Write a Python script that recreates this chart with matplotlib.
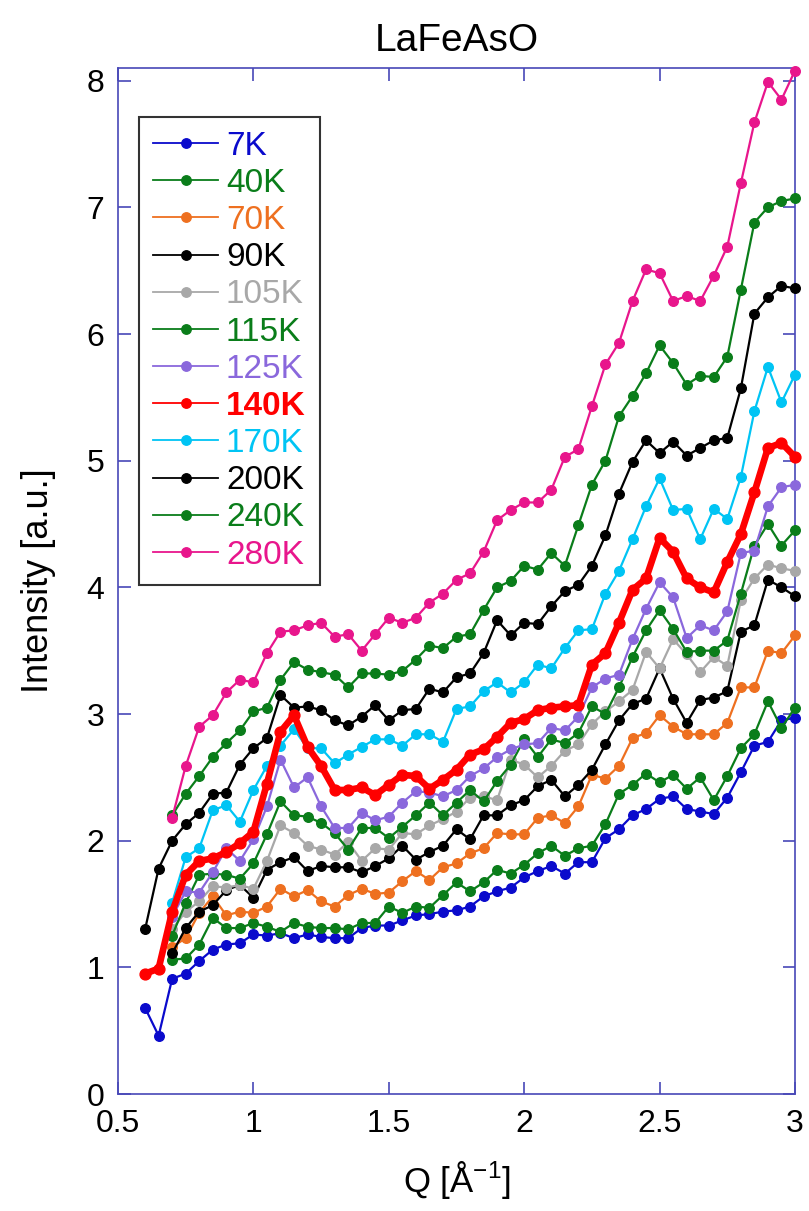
import numpy as np
import matplotlib
matplotlib.use("Agg")
import matplotlib.pyplot as plt
from matplotlib.lines import Line2D

plt.rcParams['font.family'] = ['Liberation Sans', 'DejaVu Sans']
plt.rcParams['mathtext.fontset'] = 'custom'
plt.rcParams['mathtext.rm'] = 'Liberation Sans'
plt.rcParams['mathtext.it'] = 'Liberation Sans:italic'

nan = np.nan
Q = np.round(np.arange(0.6, 3.0001, 0.05), 2)

I_7K = [0.68, 0.46, 0.91, 0.95, 1.05, 1.14, 1.18, 1.19, 1.26, 1.25, 1.27, 1.23, 1.26, 1.24, 1.23, 1.23, 1.31, 1.33, 1.33, 1.37, 1.41, 1.42, 1.44, 1.45, 1.48, 1.56, 1.60, 1.63, 1.71, 1.76, 1.80, 1.74, 1.83, 1.83, 2.02, 2.09, 2.20, 2.25, 2.33, 2.35, 2.25, 2.23, 2.21, 2.34, 2.54, 2.75, 2.78, 2.95, 2.97]
I_40K = [nan, nan, 1.06, 1.07, 1.18, 1.39, 1.31, 1.31, 1.35, 1.32, 1.28, 1.35, 1.32, 1.31, 1.31, 1.30, 1.35, 1.35, 1.48, 1.43, 1.48, 1.47, 1.57, 1.67, 1.60, 1.67, 1.77, 1.74, 1.81, 1.90, 1.96, 1.88, 1.94, 1.96, 2.13, 2.37, 2.44, 2.53, 2.46, 2.52, 2.41, 2.50, 2.32, 2.51, 2.73, 2.84, 3.10, 2.89, 3.05]
I_70K = [nan, nan, 1.16, 1.23, 1.43, 1.56, 1.41, 1.44, 1.43, 1.48, 1.62, 1.56, 1.61, 1.52, 1.48, 1.57, 1.62, 1.58, 1.59, 1.68, 1.76, 1.69, 1.79, 1.82, 1.90, 1.94, 2.06, 2.05, 2.05, 2.18, 2.20, 2.14, 2.27, 2.52, 2.49, 2.59, 2.81, 2.85, 2.99, 2.90, 2.84, 2.84, 2.84, 2.93, 3.21, 3.21, 3.50, 3.48, 3.62]
I_90K = [nan, nan, 1.11, 1.31, 1.44, 1.49, 1.61, 1.65, 1.55, 1.77, 1.83, 1.87, 1.76, 1.80, 1.79, 1.79, 1.75, 1.80, 1.86, 1.96, 1.85, 1.91, 1.96, 2.09, 2.01, 2.20, 2.20, 2.28, 2.32, 2.43, 2.48, 2.35, 2.44, 2.56, 2.76, 2.95, 3.08, 3.12, 3.36, 3.12, 2.93, 3.11, 3.13, 3.18, 3.65, 3.70, 4.06, 4.00, 3.93]
I_105K = [nan, nan, 1.30, 1.44, 1.52, 1.64, 1.63, 1.65, 1.62, 1.84, 2.12, 2.06, 1.96, 1.93, 1.89, 1.99, 1.84, 1.94, 1.93, 2.06, 2.05, 2.12, 2.17, 2.23, 2.34, 2.35, 2.32, 2.64, 2.60, 2.50, 2.59, 2.71, 2.76, 2.92, 3.02, 3.10, 3.19, 3.49, 3.36, 3.59, 3.47, 3.33, 3.45, 3.38, 3.90, 4.07, 4.18, 4.15, 4.13]
I_115K = [nan, nan, 1.25, 1.51, 1.73, 1.74, 1.73, 1.70, 1.82, 2.05, 2.31, 2.20, 2.19, 2.14, 2.06, 1.93, 2.10, 2.10, 2.02, 2.11, 2.20, 2.30, 2.20, 2.30, 2.40, 2.31, 2.47, 2.60, 2.80, 2.66, 2.80, 2.77, 2.85, 3.06, 3.00, 3.21, 3.45, 3.66, 3.82, 3.67, 3.49, 3.50, 3.50, 3.58, 3.95, 4.33, 4.50, 4.33, 4.45]
I_125K = [nan, nan, 1.40, 1.60, 1.59, 1.75, 1.94, 1.84, 2.01, 2.27, 2.64, 2.42, 2.50, 2.27, 2.10, 2.10, 2.22, 2.16, 2.19, 2.30, 2.39, 2.38, 2.35, 2.40, 2.51, 2.57, 2.66, 2.72, 2.76, 2.77, 2.89, 2.87, 2.98, 3.21, 3.28, 3.31, 3.59, 3.83, 4.04, 3.92, 3.60, 3.70, 3.66, 3.81, 4.27, 4.29, 4.64, 4.79, 4.81]
I_140K = [0.95, 0.99, 1.44, 1.73, 1.84, 1.86, 1.91, 1.98, 2.07, 2.45, 2.86, 2.99, 2.74, 2.59, 2.40, 2.40, 2.42, 2.36, 2.44, 2.52, 2.51, 2.41, 2.48, 2.56, 2.68, 2.72, 2.82, 2.93, 2.96, 3.03, 3.05, 3.06, 3.07, 3.39, 3.48, 3.72, 3.98, 4.07, 4.39, 4.28, 4.07, 4.00, 3.96, 4.20, 4.42, 4.75, 5.10, 5.14, 5.03]
I_170K = [nan, nan, 1.51, 1.87, 1.94, 2.24, 2.28, 2.15, 2.40, 2.59, 2.75, 2.88, 2.73, 2.73, 2.61, 2.68, 2.74, 2.80, 2.80, 2.75, 2.84, 2.84, 2.78, 3.04, 3.06, 3.18, 3.25, 3.17, 3.25, 3.39, 3.36, 3.52, 3.66, 3.67, 3.95, 4.13, 4.38, 4.64, 4.86, 4.61, 4.62, 4.38, 4.62, 4.54, 4.87, 5.39, 5.74, 5.46, 5.68]
I_200K = [1.30, 1.78, 2.00, 2.13, 2.22, 2.37, 2.38, 2.60, 2.73, 2.81, 3.15, 3.05, 3.06, 3.03, 2.95, 2.91, 2.98, 3.07, 2.95, 3.03, 3.04, 3.20, 3.17, 3.29, 3.32, 3.48, 3.74, 3.62, 3.72, 3.71, 3.85, 3.97, 4.02, 4.17, 4.41, 4.74, 4.99, 5.16, 5.06, 5.15, 5.04, 5.10, 5.16, 5.18, 5.57, 6.16, 6.29, 6.38, 6.36]
I_240K = [nan, nan, 2.20, 2.37, 2.51, 2.66, 2.77, 2.87, 3.02, 3.05, 3.27, 3.41, 3.35, 3.33, 3.31, 3.21, 3.32, 3.32, 3.31, 3.34, 3.43, 3.54, 3.52, 3.61, 3.63, 3.82, 4.00, 4.05, 4.17, 4.14, 4.27, 4.17, 4.49, 4.81, 5.00, 5.35, 5.51, 5.69, 5.91, 5.77, 5.60, 5.67, 5.66, 5.82, 6.35, 6.88, 7.00, 7.05, 7.07]
I_280K = [nan, nan, 2.18, 2.59, 2.90, 2.99, 3.17, 3.27, 3.25, 3.48, 3.65, 3.66, 3.70, 3.72, 3.61, 3.63, 3.50, 3.63, 3.76, 3.72, 3.76, 3.88, 3.95, 4.06, 4.11, 4.28, 4.53, 4.61, 4.67, 4.67, 4.77, 5.03, 5.09, 5.43, 5.76, 5.93, 6.26, 6.51, 6.48, 6.26, 6.30, 6.26, 6.46, 6.69, 7.19, 7.67, 7.99, 7.85, 8.08]

labels = ['7K', '40K', '70K', '90K', '105K', '115K', '125K', '140K', '170K', '200K', '240K', '280K']
series = [I_7K, I_40K, I_70K, I_90K, I_105K, I_115K, I_125K, I_140K, I_170K, I_200K, I_240K, I_280K]
colors = ['#0a0acc', '#0a7d1a', '#ee7020', '#000000', '#a8a8a8', '#0a7d1a',
          '#8a68dc', '#ff0000', '#00c4f4', '#000000', '#0a7d1a', '#e8168c']

W, H = 809, 1211
fig = plt.figure(figsize=(W / 100, H / 100), dpi=100)
ax = fig.add_axes([118 / W, 1 - 1094 / H, (795 - 118) / W, (1094 - 68) / H])

for lab, vals, c in zip(labels, series, colors):
    y = np.array(vals, dtype=float)
    if lab == '140K':
        ax.plot(Q, y, '-o', color=c, lw=4.8, ms=7.8, zorder=4, clip_on=False)
    else:
        ax.plot(Q, y, '-o', color=c, lw=1.6, ms=6.9, zorder=3, clip_on=False)

ax.set_xlim(0.5, 3.0)
ax.set_ylim(0, 8.1)
ax.set_xticks([0.5, 1, 1.5, 2, 2.5, 3])
ax.set_xticklabels(['0.5', '1', '1.5', '2', '2.5', '3'])
ax.set_yticks(range(0, 9))

axcol = '#4848b8'
for s in ax.spines.values():
    s.set_color(axcol)
    s.set_linewidth(1.2)
ax.tick_params(direction='in', length=9, width=1.2, color=axcol,
               top=True, right=True, labelsize=23, labelcolor='black')
ax.tick_params(axis='x', pad=11)
ax.tick_params(axis='y', pad=10)

ax.set_xlabel('Q [Å$^{-1}$]', fontsize=25, labelpad=14)
ax.set_ylabel('Intensity [a.u.]', fontsize=26, labelpad=22)
ax.set_title('LaFeAsO', fontsize=28, pad=12)

handles = [Line2D([], [], color=c, marker='o', lw=1.3, ms=6.8) for c in colors]
leg = ax.legend(handles, labels, loc='upper left',
                bbox_to_anchor=(139 / W, 1 - 116.7 / H), bbox_transform=fig.transFigure,
                borderaxespad=0, fontsize=24, frameon=True, fancybox=False,
                edgecolor='black', handlelength=1.95, handletextpad=0.24,
                labelspacing=0.185, borderpad=0.42)
leg.get_frame().set_linewidth(1.5)
for t, c, lab in zip(leg.get_texts(), colors, labels):
    t.set_color(c)
    if lab == '140K':
        t.set_fontweight('bold')

fig.savefig('out.png', dpi=100)
